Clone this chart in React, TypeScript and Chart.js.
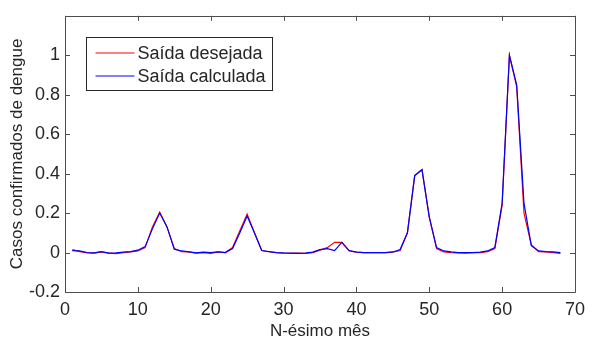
import React, { useEffect, useRef } from "react";
import { Chart, registerables } from "chart.js";

Chart.register(...registerables);

const months: number[] = Array.from({ length: 68 }, (_, i) => i + 1);

const desejada: number[] = [
  0.015, 0.005, 0.0, -0.003, 0.003, -0.003, -0.005, 0.0, 0.003, 0.008,
  0.025, 0.13, 0.205, 0.13, 0.02, 0.005, 0.003, -0.003, 0.0, -0.004,
  0.003, 0.0, 0.025, 0.11, 0.195, 0.1, 0.01, 0.004, 0.0, -0.003,
  -0.004, -0.003, -0.004, 0.0, 0.012, 0.025, 0.052, 0.052, 0.008, 0.002,
  0.0, 0.0, 0.0, 0.0, 0.002, 0.01, 0.1, 0.39, 0.42, 0.18,
  0.02, 0.003, 0.0, -0.002, -0.003, 0.0, 0.0, 0.005, 0.02, 0.24,
  1.0, 0.84, 0.2, 0.04, 0.005, 0.003, 0.0, -0.004,
];

const calculada: number[] = [
  0.01, 0.008, 0.0, -0.002, 0.005, -0.003, -0.002, 0.002, 0.005, 0.012,
  0.03, 0.12, 0.2, 0.13, 0.017, 0.008, 0.003, -0.002, 0.002, 0.0,
  0.003, 0.0, 0.02, 0.1, 0.185, 0.1, 0.01, 0.005, 0.0, -0.002,
  -0.003, -0.004, -0.003, 0.002, 0.015, 0.02, 0.01, 0.052, 0.01, 0.002,
  0.0, 0.0, 0.0, 0.0, 0.003, 0.015, 0.1, 0.39, 0.42, 0.18,
  0.025, 0.008, 0.003, 0.0, 0.0, 0.0, 0.002, 0.008, 0.025, 0.25,
  1.0, 0.85, 0.25, 0.035, 0.008, 0.005, 0.003, 0.0,
];

const xTicks: number[] = [0, 10, 20, 30, 40, 50, 60, 70];
const yTicks: number[] = [-0.2, 0, 0.2, 0.4, 0.6, 0.8, 1];
const seriesLabels: string[] = ["Saída desejada", "Saída calculada"];
const xTitle = "N-ésimo mês";
const yTitle = "Casos confirmados de dengue";

const FONT = "'Liberation Sans', Arial, sans-serif";
const AXIS_COLOR = "#4d4d4d";
const TEXT_COLOR = "#262626";

const boxPlugin = {
  id: "boxPlugin",
  afterDraw(chart: any) {
    const { ctx, chartArea } = chart;
    const { left, right, top, bottom } = chartArea;
    const xs = chart.scales.x;
    const ys = chart.scales.y;
    ctx.save();
    ctx.strokeStyle = AXIS_COLOR;
    ctx.lineWidth = 1;
    ctx.beginPath();
    ctx.rect(Math.round(left) + 0.5, Math.round(top) + 0.5, Math.round(right - left), Math.round(bottom - top));
    ctx.stroke();
    const tl = 5;
    ctx.beginPath();
    xTicks.forEach((v) => {
      const px = Math.round(xs.getPixelForValue(v)) + 0.5;
      ctx.moveTo(px, bottom);
      ctx.lineTo(px, bottom - tl);
      ctx.moveTo(px, top);
      ctx.lineTo(px, top + tl);
    });
    yTicks.forEach((v) => {
      const py = Math.round(ys.getPixelForValue(v)) + 0.5;
      ctx.moveTo(left, py);
      ctx.lineTo(left + tl, py);
      ctx.moveTo(right, py);
      ctx.lineTo(right - tl, py);
    });
    ctx.stroke();

    // legend
    const lx = Math.round(left) + 21.5;
    const ly = Math.round(top) + 21.5;
    const lw = 186;
    const lh = 53;
    ctx.fillStyle = "#ffffff";
    ctx.fillRect(lx, ly, lw, lh);
    ctx.strokeStyle = "#262626";
    ctx.strokeRect(lx, ly, lw, lh);
    chart.data.datasets.forEach((ds: any, i: number) => {
      const rowY = ly + 15.5 + i * 23;
      ctx.strokeStyle = ds.borderColor;
      ctx.lineWidth = 1;
      ctx.beginPath();
      ctx.moveTo(lx + 9, rowY);
      ctx.lineTo(lx + 48, rowY);
      ctx.stroke();
      ctx.fillStyle = TEXT_COLOR;
      ctx.font = `18px ${FONT}`;
      ctx.textAlign = "left";
      ctx.textBaseline = "middle";
      ctx.fillText(ds.label, lx + 51, rowY + 1);
    });
    ctx.restore();
  },
};

export default function App() {
  const ref = useRef<HTMLCanvasElement | null>(null);
  useEffect(() => {
    if (!ref.current) return;
    const chart = new Chart(ref.current, {
      type: "line",
      data: {
        datasets: [
          {
            label: seriesLabels[0],
            data: months.map((m, i) => ({ x: m, y: desejada[i] })),
            borderColor: "rgb(255,0,0)",
            borderWidth: 1.2,
            pointRadius: 0,
            tension: 0,
            fill: false,
            order: 1,
          },
          {
            label: seriesLabels[1],
            data: months.map((m, i) => ({ x: m, y: calculada[i] })),
            borderColor: "rgb(0,0,255)",
            borderWidth: 1.2,
            pointRadius: 0,
            tension: 0,
            fill: false,
            order: 0,
          },
        ],
      },
      options: {
        animation: false,
        responsive: false,
        devicePixelRatio: 1,
        layout: { padding: { top: 12, right: 9, left: 0, bottom: 0 } },
        plugins: {
          legend: { display: false },
          tooltip: { enabled: false },
        },
        scales: {
          x: {
            type: "linear",
            min: 0,
            max: 70,
            afterBuildTicks: (s: any) => {
              s.ticks = xTicks.map((v) => ({ value: v }));
            },
            afterFit: (s: any) => {
              s.height = 48;
            },
            grid: { display: false, drawTicks: false },
            border: { display: false },
            ticks: {
              padding: 7,
              color: TEXT_COLOR,
              font: { family: FONT, size: 18 },
              maxRotation: 0,
              callback: (v: any) => String(v),
            },
            title: {
              display: true,
              text: xTitle,
              color: TEXT_COLOR,
              font: { family: FONT, size: 17 },
              padding: { top: 0, bottom: -2 },
            },
          },
          y: {
            type: "linear",
            min: -0.2,
            max: 1.2,
            afterBuildTicks: (s: any) => {
              s.ticks = yTicks.map((v) => ({ value: v }));
            },
            afterFit: (s: any) => {
              s.width = 65;
            },
            grid: { display: false, drawTicks: false },
            border: { display: false },
            ticks: {
              padding: 5,
              color: TEXT_COLOR,
              font: { family: FONT, size: 18 },
              callback: (v: any) => String(Math.round(v * 10) / 10),
            },
            title: {
              display: true,
              text: yTitle,
              color: TEXT_COLOR,
              font: { family: FONT, size: 17 },
              padding: { top: 7, bottom: 0 },
            },
          },
        },
      },
      plugins: [boxPlugin],
    });
    return () => chart.destroy();
  }, []);
  return (
    <div style={{ position: "fixed", left: 0, top: 0, width: 592, height: 340, background: "#ffffff" }}>
      <canvas ref={ref} width={592} height={340} style={{ display: "block", width: 592, height: 340 }} />
    </div>
  );
}
